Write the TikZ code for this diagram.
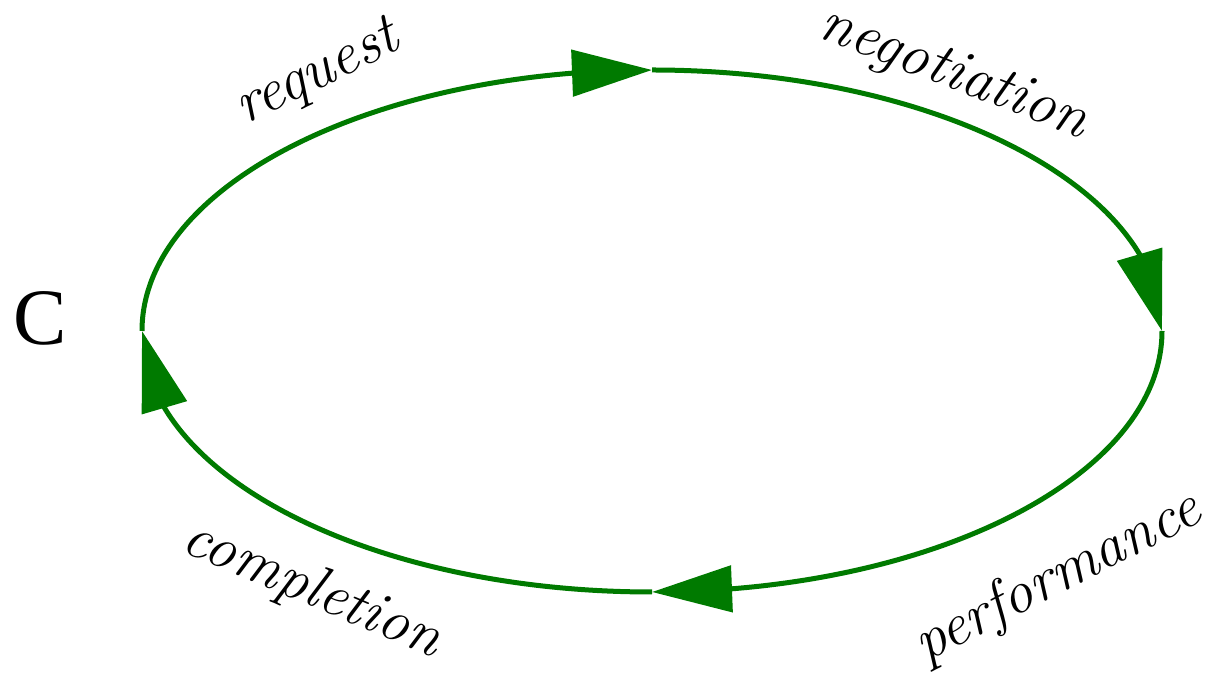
\documentclass[tikz,border=0pt]{standalone}
\usepackage{fontspec}
\setmainfont{Liberation Serif}
\newfontfamily\phasefont{Latin Modern Roman}
\usetikzlibrary{arrows.meta, bending}
\definecolor{cyclegreen}{RGB}{0,122,0}
\begin{document}
\begin{tikzpicture}[x=0.5pt, y=0.5pt,
    flow/.style={cyclegreen, line width=2.5pt, -{Triangle[length=40pt, width=23pt, flex]}},
    phase/.style={font=\phasefont\fontsize{30}{36}\selectfont\itshape}]
    \useasboundingbox (0,0) rectangle (1217,674);
    \coordinate (left) at (142,343);
    \coordinate (top) at (652,604);
    \coordinate (right) at (1162,343);
    \coordinate (bottom) at (652,82);
    \draw [flow] (left) arc [start angle=180, end angle=90, x radius=255pt, y radius=130.5pt];
    \draw [flow] (top) arc [start angle=90, end angle=0, x radius=255pt, y radius=130.5pt];
    \draw [flow] (right) arc [start angle=0, end angle=-90, x radius=255pt, y radius=130.5pt];
    \draw [flow] (bottom) arc [start angle=270, end angle=180, x radius=255pt, y radius=130.5pt];
    \node (c) at (40,356) {\fontsize{40}{48}\selectfont C};
    \node [phase, rotate=26] (request) at (318,599) {request};
    \node [phase, rotate=-21] (negotiation) at (953,599) {negotiation};
    \node [phase, rotate=27] (performance) at (1058,96) {performance};
    \node [phase, rotate=-23] (completion) at (312,84) {completion};
\end{tikzpicture}
\end{document}
